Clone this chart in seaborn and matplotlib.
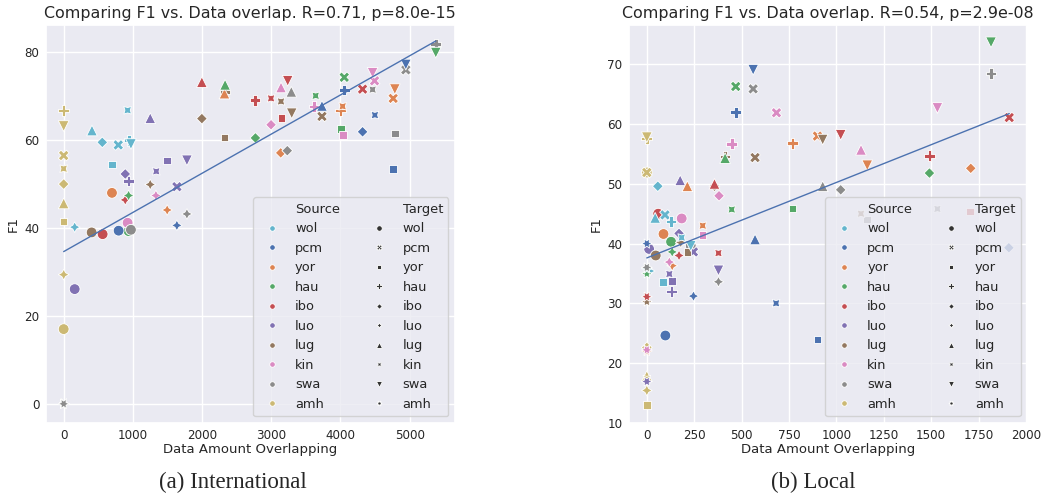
import numpy as np
import pandas as pd
import seaborn as sns
import matplotlib.pyplot as plt

langs = ['wol', 'pcm', 'yor', 'hau', 'ibo', 'luo', 'lug', 'kin', 'swa', 'amh']
# row order of the data (drawing order): grouped by target, then by source
src_order = ['amh', 'luo', 'lug', 'ibo', 'yor', 'hau', 'pcm', 'kin', 'wol', 'swa']

# ---- (a) International: source -> target -> (overlap, F1)
intl = {
    'wol': {'pcm': (789, 58.9), 'yor': (698, 54.5), 'hau': (943, 60.0), 'ibo': (558, 59.5),
            'luo': (159, 40.2), 'lug': (409, 62.2), 'kin': (924, 66.8), 'swa': (972, 59.1),
            'amh': (0, 0)},
    'pcm': {'wol': (794, 39.4), 'yor': (4762, 53.5), 'hau': (4055, 71.4), 'ibo': (4320, 61.9),
            'luo': (1636, 40.6), 'lug': (3733, 67.8), 'kin': (4498, 65.7), 'swa': (4945, 77.2),
            'amh': (0, 0)},
    'yor': {'wol': (698, 48.0), 'pcm': (4762, 69.5), 'hau': (4003, 66.7), 'ibo': (3137, 57.1),
            'luo': (1496, 44.1), 'lug': (2324, 70.6), 'kin': (4032, 67.7), 'swa': (4786, 71.6),
            'amh': (0, 0)},
    'hau': {'wol': (938, 39.3), 'pcm': (4055, 74.3), 'yor': (4007, 62.5), 'ibo': (2771, 60.5),
            'luo': (938, 47.4), 'lug': (2333, 72.6), 'kin': (3642, 70.1), 'swa': (5378, 79.9),
            'amh': (0, 0)},
    'ibo': {'wol': (563, 38.6), 'pcm': (4320, 71.6), 'yor': (3146, 65.0), 'hau': (2766, 69.1),
            'luo': (890, 46.4), 'lug': (1997, 73.2), 'kin': (2997, 69.5), 'swa': (3238, 73.5),
            'amh': (0, 0)},
    'luo': {'wol': (159, 26.1), 'pcm': (1636, 49.4), 'yor': (1496, 55.4), 'hau': (938, 50.7),
            'ibo': (890, 52.3), 'lug': (1251, 65.0), 'kin': (1338, 52.9), 'swa': (1781, 55.4),
            'amh': (0, 0)},
    'lug': {'wol': (404, 39.0), 'pcm': (3733, 65.4), 'yor': (2324, 60.6), 'hau': (2330, 71.0),
            'ibo': (1997, 64.9), 'luo': (1251, 49.9), 'kin': (3141, 68.8), 'swa': (3296, 66.1),
            'amh': (0, 0)},
    'kin': {'wol': (924, 41.2), 'pcm': (4493, 73.5), 'yor': (4040, 61.1), 'hau': (3618, 67.7),
            'ibo': (2997, 63.5), 'luo': (1333, 47.4), 'lug': (3141, 72.0), 'swa': (4465, 75.3),
            'amh': (0, 0)},
    'swa': {'wol': (972, 39.6), 'pcm': (4945, 76.0), 'yor': (4791, 61.5), 'hau': (5378, 81.9),
            'ibo': (3232, 57.6), 'luo': (1781, 43.2), 'lug': (3290, 71.0), 'kin': (4465, 71.5),
            'amh': (0, 0)},
    'amh': {'wol': (0, 17.0), 'pcm': (0, 56.5), 'yor': (0, 41.5), 'hau': (0, 66.7),
            'ibo': (0, 50.0), 'luo': (0, 29.4), 'lug': (0, 45.6), 'kin': (0, 53.5),
            'swa': (0, 63.2)},
}

# ---- (b) Local
local = {
    'wol': {'pcm': (96, 44.8), 'yor': (86, 33.6), 'hau': (128, 43.7), 'ibo': (58, 49.6),
            'luo': (15, 35.4), 'lug': (44, 44.3), 'kin': (184, 41.0), 'swa': (232, 39.6),
            'amh': (0, 35.8)},
    'pcm': {'wol': (98, 24.6), 'yor': (900, 23.9), 'hau': (469, 62.0), 'ibo': (1910, 39.3),
            'luo': (246, 31.2), 'lug': (571, 40.7), 'kin': (682, 30.0), 'swa': (561, 69.1),
            'amh': (0, 40.0)},
    'yor': {'wol': (88, 41.6), 'pcm': (900, 58.0), 'hau': (768, 56.8), 'ibo': (1709, 52.6),
            'luo': (134, 36.3), 'lug': (214, 49.6), 'kin': (295, 43.0), 'swa': (1163, 53.1),
            'amh': (0, 22.0)},
    'hau': {'wol': (128, 40.3), 'pcm': (469, 66.3), 'yor': (768, 45.9), 'ibo': (1491, 51.8),
            'luo': (134, 38.6), 'lug': (413, 54.3), 'kin': (448, 45.7), 'swa': (1816, 73.7),
            'amh': (0, 35.0)},
    'ibo': {'wol': (60, 45.0), 'pcm': (1912, 61.1), 'yor': (1705, 45.4), 'hau': (1491, 54.7),
            'luo': (170, 38.0), 'lug': (357, 50.0), 'kin': (378, 38.4), 'swa': (1023, 58.2),
            'amh': (0, 31.1)},
    'luo': {'wol': (12, 39.1), 'pcm': (246, 38.6), 'yor': (132, 33.7), 'hau': (130, 32.0),
            'ibo': (170, 41.7), 'lug': (176, 50.6), 'kin': (119, 34.9), 'swa': (378, 35.5),
            'amh': (0, 16.9)},
    'lug': {'wol': (47, 38.0), 'pcm': (571, 54.4), 'yor': (214, 38.6), 'hau': (413, 54.6),
            'ibo': (357, 49.6), 'luo': (179, 40.2), 'kin': (1130, 45.0), 'swa': (928, 57.4),
            'amh': (0, 30.3)},
    'kin': {'wol': (184, 44.2), 'pcm': (684, 61.9), 'yor': (293, 41.4), 'hau': (448, 56.7),
            'ibo': (381, 48.0), 'luo': (119, 36.9), 'lug': (1130, 55.7), 'swa': (1533, 62.7),
            'amh': (0, 22.2)},
    'swa': {'wol': (232, 39.6), 'pcm': (561, 65.9), 'yor': (1163, 44.0), 'hau': (1816, 68.5),
            'ibo': (1023, 49.0), 'luo': (378, 33.6), 'lug': (928, 49.6), 'kin': (1533, 45.8),
            'amh': (0, 36.0)},
    'amh': {'wol': (0, 51.9), 'pcm': (0, 51.9), 'yor': (0, 13.0), 'hau': (0, 57.6),
            'ibo': (0, 22.6), 'luo': (0, 15.4), 'lug': (0, 17.8), 'kin': (0, 17.3),
            'swa': (0, 57.8)},
}

titles = ['Comparing F1 vs. Data overlap. R=0.71, p=8.0e-15',
          'Comparing F1 vs. Data overlap. R=0.54, p=2.9e-08']
captions = ['(a) International', '(b) Local']


def to_frame(table):
    rows = []
    for t in langs:
        for s in src_order:
            if t in table[s]:
                x, y = table[s][t]
                rows.append({'Source': s, 'Target': t,
                             'Data Amount Overlapping': x, 'F1': y})
    return pd.DataFrame(rows)


sns.set_theme(style='darkgrid')
deep = sns.color_palette('deep')
palette = dict(zip(langs, [deep[9]] + list(deep[:9])))

fig = plt.figure(figsize=(10.43, 4.97), dpi=100)
ax1 = fig.add_axes([0.0438, 0.1495, 0.3924, 0.8002])
ax2 = fig.add_axes([0.6027, 0.1495, 0.3820, 0.8002])

panels = [
    (ax1, intl, (-260, 5655), (-4.3, 86.2), [0, 20, 40, 60, 80]),
    (ax2, local, (-96, 2006), (10, 76.6), [10, 20, 30, 40, 50, 60, 70]),
]

for i, (ax, table, xlim, ylim, yticks) in enumerate(panels):
    df = to_frame(table)
    sns.scatterplot(data=df, x='Data Amount Overlapping', y='F1',
                    hue='Source', style='Target', hue_order=langs,
                    style_order=langs, palette=palette, s=60, ax=ax)
    # least squares line
    k, b = np.polyfit(df['Data Amount Overlapping'], df['F1'], 1)
    lx = np.array([df['Data Amount Overlapping'].min(), df['Data Amount Overlapping'].max()])
    ax.plot(lx, k * lx + b, color=deep[0], lw=1)
    ax.set_xlim(*xlim)
    ax.set_ylim(*ylim)
    ax.set_yticks(yticks)
    ax.set_title(titles[i], fontsize=11.4, pad=5)
    ax.set_xlabel('Data Amount Overlapping', fontsize=9.5, labelpad=1)
    ax.set_ylabel('F1', fontsize=9.5, labelpad=3)
    ax.tick_params(labelsize=8.6, length=0, pad=4.5)
    sns.move_legend(ax, 'lower right', ncol=2, title=None, fontsize=9.4,
                    handletextpad=0.8, columnspacing=2.0)
    for h in ax.get_legend().legend_handles:
        if h is not None and hasattr(h, 'set_markersize'):
            h.set_markersize(4)

for i, cap in enumerate(captions):
    fig.text([0.2234, 0.7795][i], 0.03, cap, ha='center', va='center',
             family='Liberation Serif', fontsize=16.5)

fig.savefig('out.png', dpi=100)
